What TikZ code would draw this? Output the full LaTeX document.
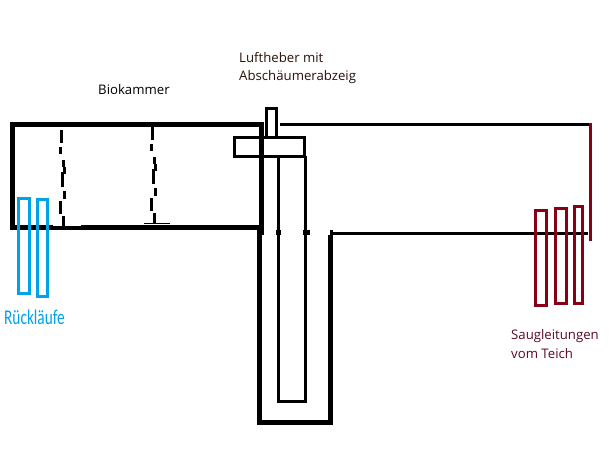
\documentclass[tikz,border=0pt]{standalone}
\usepackage{fontspec}
\setmainfont{Open Sans}
\newfontfamily\carl{Carlito}
\definecolor{blau}{HTML}{00A2E8}
\definecolor{rot}{HTML}{880015}
\definecolor{txtbraun}{HTML}{2A1208}
\definecolor{txtrot}{HTML}{5A0A20}
\tikzset{
  wall/.style={line width=5pt,black},
  thin wall/.style={line width=3pt,black},
  dash seg/.style={line width=3pt,black},
  blue pipe/.style={line width=3pt,blau},
  red pipe/.style={line width=3pt,rot},
  lbl/.style={anchor=west,inner sep=0pt,font=\fontsize{13.2}{15}\selectfont},
}
\begin{document}
\begin{tikzpicture}[x=1pt,y=-1pt]
\useasboundingbox[fill=white] (0,0) rectangle (614,460);
% Biokammer
\draw[wall,line cap=rect] (261.5,124.5) -- (12.5,124.5) -- (12.5,227.5);
\draw[wall] (12.5,227.5) -- (53,227.5);
\draw[line width=3.5pt] (53,228) -- (81,228);
\draw[wall] (81,227.5) -- (262,227.5);
\draw[wall] (261.5,122) -- (261.5,235);
% Sump
\draw[wall] (259.5,230) -- (259.5,422.5) -- (330.5,422.5) -- (330.5,235);
\draw[thin wall] (331.5,230) -- (331.5,238);
\draw[thin wall] (331,233.5) -- (588,233.5);
\draw[thin wall] (280,124.5) -- (590,124.5);
% Luftheber
\draw[thin wall] (266.5,136) -- (266.5,108.5) -- (276.5,108.5) -- (276.5,136);
\draw[thin wall] (234.5,137.5) rectangle (304.5,156.5);
\draw[thin wall] (278.5,156) -- (278.5,401.5) -- (305.5,401.5) -- (305.5,156);
\draw[line width=5pt] (278.5,230) -- (278.5,235);
\draw[line width=7pt] (306.5,230) -- (306.5,235);
% Left dashed wall
\foreach \xa/\ya/\yb in {61.3/130/143,60.3/147/154,63.3/160/167.3,64.3/167/174,62.3/172/187,64.3/191/199,60.3/201/214,63.3/216/226}
  \draw[dash seg] (\xa,\ya) -- (\xa,\yb);
% Right dashed wall
\foreach \xa/\ya/\yb in {152.3/127/140,151.3/144/151,154.3/157/164,155.3/164/171,153.3/169/184,155.3/188/196,151.3/198/211,154.3/213/223}
  \draw[dash seg] (\xa,\ya) -- (\xa,\yb);
\draw[line width=1pt] (144,223.5) -- (170,223.5);
% Blue returns
\draw[blue pipe] (18.5,198.5) rectangle (29.5,293.5);
\draw[blue pipe] (37.5,199.5) rectangle (47.5,296.5);
% Red suction lines
\draw[red pipe] (535.5,210.5) rectangle (546.5,305.5);
\draw[red pipe] (555.5,208.5) rectangle (566.5,303.5);
\draw[red pipe] (574.5,206.5) rectangle (582.5,303.5);
\draw[red pipe] (590.5,123) -- (590.5,241);
% Labels
\node[lbl] (bio) at (98,90) {Biokammer};
\node[lbl,text=txtbraun] (luft1) at (239,58) {Luftheber mit};
\node[lbl,text=txtbraun] (luft2) at (239,77) {Abschäumerabzeig};
\node[lbl,text=txtrot] (saug1) at (511,336) {Saugleitungen};
\node[lbl,text=txtrot] (saug2) at (511,354) {vom Teich};
\node[lbl,text=blau,font=\carl\fontsize{21}{23}\selectfont,xscale=.73,transform shape] (rueck) at (4,317) {Rückläufe};
\end{tikzpicture}
\end{document}
